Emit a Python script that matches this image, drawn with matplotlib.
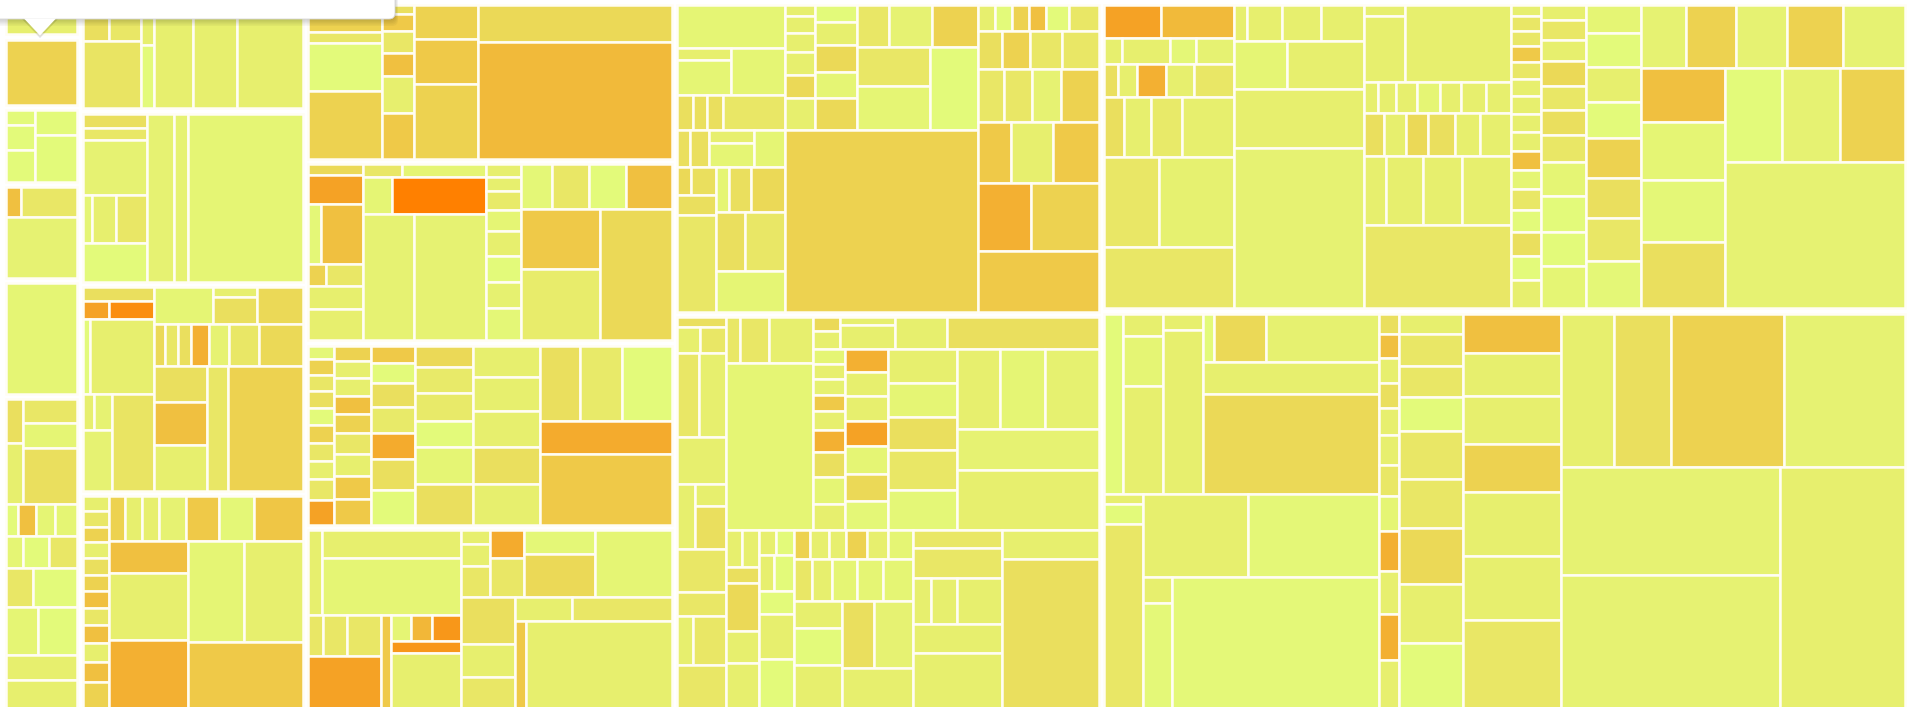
#!/usr/bin/env python3
# Treemap of nested blocks, coloured yellow -> orange by heat
#
import matplotlib
matplotlib.use("Agg")
import matplotlib.pyplot as plt
from matplotlib.patches import Rectangle, FancyBboxPatch, Polygon
from matplotlib.colors import LinearSegmentedColormap

# leaves are (size, heat); lists are groups, split alternately across / down
block_a1 = [(27, 1)]
block_a2 = [(54, 3)]
block_a3 = [[(5.1, 0), (8.6, 0), (10.9, 0)], [(12.2, 0), (22.5, 0)]]
block_a4 = [[[(5.1, 4), (19.5, 1.5)], (49.3, 0.7)]]
block_a5 = [(89.3, 0.5)]
block_a6 = [[[[(8.1, 2), (11.2, 1)], [(14.2, 1.5), (15.3, 0.5), (33.6, 2)]],
             [(4.2, 0), (6.1, 4), (6.7, 0.5), (7.7, 0.5)],
             [(5.8, 0.5), (9.0, 0), (9.9, 1.5)],
             [(11.6, 1.5), (19.2, 0)],
             [(17.2, 0.5), (20.6, 0)],
             (19.3, 1), (29.3, 1)]]

block_b1 = [[[(10.3, 2), (12.2, 1.5)], (41.9, 1.7)],
            [(5.7, 1), (9.0, 0)],
            (43.6, 1), (49, 1), (73.6, 1)]
block_b2 = [[(9.2, 2), (8.5, 1.5), (37, 0.7),
             [[[(4.5, 0.5), (12.4, 1), (15.6, 1.5)], (26.2, 0)]]],
            (48.4, 0.7), (24.2, 0.7), (203, 0.5)]
block_b3 = [[(10.2, 2), [(4.9, 5), (8.6, 5.6)], [(5.4, 0), (50.8, 1)],
             [[[(4.3, 1), (6.8, 0.7)], (18.8, 0.7)], (42.8, 1.7)]],
            [[(22.7, 0.5), [(4.7, 1), (12.2, 2)], (17.4, 2.5)],
             [(4.9, 2.5), (5.8, 1.5), (5.4, 2), (8.2, 4.5), (8.6, 0.7), (13.1, 1.5), (19.4, 2.5)],
             [[(20.2, 2), (24, 4), (25.9, 1)], (27, 1.5), (98.3, 3)]]]
block_b4 = [[(4.0, 1), (4.2, 1.5), (4.2, 3), (4.4, 1), (4.4, 2), (4.5, 3),
             (4.5, 4), (4.5, 1.5), (4.9, 4), (5.3, 1), (5.4, 4), (9.5, 3)],
            [[(7.7, 3), (7.7, 1), (8.0, 1), (12.7, 0.7), (15.5, 3.5), (16.2, 0.3), (22.5, 3.7)],
             [[(26.9, 4), (55.4, 1), (64.8, 4.5)],
              [[(59.2, 0.5), (61.3, 1)], (90.7, 3.5)]]]]

block_c1 = [[(20.9, 3), (8.6, 1.5), (36.9, 0), (52.5, 3)],
            [(3.3, 2), (5.8, 3.5), (7.4, 1.5), (7.8, 4), (12.7, 1), (15.7, 3.5)],
            [(23.1, 3), (29.9, 3.5), (50.7, 3)],
            [(74.5, 2.5), (238.1, 4.2)]]
block_c2 = [[(5.8, 2.5), (16.9, 5), [(8.4, 0.3), (26.0, 4)], [(4.0, 3), (8.3, 1.5)],
             (13.3, 1), (17.8, 1)],
            [[(5.0, 1.5), (10.6, 0.5)], [(11.6, 0.5), (36.6, 6)], [(67.6, 0.7), (94.9, 0.7)]],
            [(4.6, 1), (5.1, 1), (6.8, 1.3), (7.5, 0.5), (8.9, 1), (9.5, 0), (9.5, 0.8), (11.6, 0.3)],
            [[(14.7, 0.3), (17.0, 1.5), (17.5, 0), (21.2, 4)],
             [[(49.6, 3.5), (58.4, 1.2)], (98.6, 2.5)]]]
block_c3 = [[(3.5, 0.3), (4.3, 3), (4.4, 1.5), (4.4, 2), (4.7, 0), (4.8, 3),
             (4.8, 1.5), (4.8, 1), (5.6, 1.5), (6.5, 5)],
            [(5.8, 3), (6.8, 1), (6.9, 1), (6.9, 4), (7.1, 3), (8.1, 1.5),
             (8.8, 1), (8.8, 3.5), (9.8, 3.5)],
            [(8.1, 3.5), (9.0, 0), (11.3, 2), (12.2, 1.3), (12.2, 4.7), (14.2, 2), (16.0, 0)],
            [(12.9, 2.5), (15.8, 1.3), (16.4, 1.3), (16.1, 0), (21.9, 0.5), (24.6, 2)],
            [(22.3, 1), (24.0, 1), (25.3, 1), (26.0, 2), (28.4, 1)],
            [[(30.8, 2), (33.1, 1.3), (38.5, 0)], (45.2, 4.7), (97.1, 3.5)]]
block_c4 = [[[(12.7, 1), [(40.9, 1), (82.5, 0.5)]],
             [[[(6.5, 1.5), (10.1, 1.5), (14.3, 1.5)], (46.3, 5)], (11.6, 3.5),
              [[(5.3, 0.5), (5.7, 4.3), (7.8, 5.3)], (8.5, 5.3), (47.2, 1)]]],
            [[[(4.0, 1), (6.6, 1), (9.1, 1.5)], [(9.8, 4.7), (14.0, 1.5)],
              [(18.0, 0.3), (31.7, 2.5)], (53.8, 0.5)],
             [[(26.4, 2), (18.5, 1), (22.3, 1.5)],
              [[(14.2, 1), (24.6, 1.5)], [(10.4, 3.5), (146.5, 1)]]]]]

block_d1 = [[(47.4, 0.5),
             [[(7.2, 1), (19.3, 0.5)], (25.9, 0.5)],
             [(5.8, 2), (5.2, 2), (5.6, 2), (22.7, 1.5)],
             [(4.8, 2), (7.2, 2), [(5.7, 1), (11.1, 0.5)], (11.5, 0.5)],
             [[[(4.0, 2.5), (7.1, 2)], (8.0, 2), (38.4, 1.5)],
              [[(6.4, 0.5), (10.1, 2), (15.6, 2.5)], [(17.8, 2), (24.5, 1.5)], (28.7, 0.5)]]],
            [[[(3.4, 1), (5.4, 1), (6.2, 1), (7.1, 1), (7.3, 2.5), (9.9, 1)],
              [(7.4, 0), (10.2, 1), (11.5, 2.5), (11.3, 0.5), (13.6, 2.5)],
              [[(14.1, 1.5), (18.9, 0.7), (20.2, 3)],
               [[(28.7, 1.5), (32.7, 0.5)], (40.9, 0)]]],
             (362.6, 3)],
            [[(4.5, 1), (4.6, 0), (4.7, 3), (4.7, 4), (6.3, 0), (8.1, 1.5)],
             [(8.9, 2), (11.0, 3), (12.4, 1.5), (14.1, 1.5)],
             [(14.0, 1.5), (15.1, 1.5), (16.2, 0.7), (20.5, 3)],
             [(20.6, 3.5), (26.3, 1), (29.4, 3.5)],
             [(36.9, 4.5), (47.3, 3)],
             (75.0, 3.5)]]
block_d2 = [[(5.25, 2), [(6.1, 1), (6.9, 1.5)], [(19.1, 1.5), (23.4, 1)], (23.8, 1),
             [(11.8, 1), [(7.2, 1), (13.8, 2)]], (22, 1.5), (12, 1.5),
             [(8, 1), (17, 1.5)], (26.3, 1.5)],
            [[[[(6.5, 1.5), (13.7, 1.5), (20.5, 1)], (147.9, 0.5)],
              [[[(3.9, 2.5), (5.1, 1)], [(4.4, 1), (13.5, 1)], (17.4, 1), (49.9, 2)],
               [[(4.8, 0.5), (5.0, 1), (5.4, 0.8), (5.3, 3.5), (6.6, 1), (7.4, 4.5),
                 (8.3, 2), (8.9, 0.5), (8.7, 1)],
                [(9.9, 4.5), (10.3, 1), (11.2, 1), (10.8, 5), (12.0, 0.5), (12.0, 2.5), (12.5, 0.3)],
                [(23.8, 1), (24.2, 0.5), (23.8, 2), (28, 1.5), (28.4, 0.3)],
                [[(35.2, 1), (36.5, 0.5), (44.6, 0.8)], (58.8, 0.7), (87.5, 1)]]]],
             [[[(5.9, 1), (6.3, 1)], (5.6, 2), (15.8, 2.5), (10.7, 1), (18.2, 1)],
              [[(4.3, 1), (4.6, 0)], [(5.5, 1), (7.3, 0)], (8.1, 0), (15.8, 1), (20.8, 0)],
              [[(4.9, 3), (5.4, 1), (5.1, 1), (6.2, 3), (6.2, 1), (7.3, 0.5)],
               [(8.2, 1.5), (8.6, 1), (10.8, 0.5), (11.4, 0.5), (13.1, 0.5)],
               [[(13.3, 1), (18.2, 0), (25.5, 1)],
                [[(21.9, 2), (27, 0.7)], (36.3, 1)]]],
              [(16.1, 1.5), (27.3, 1.5), [(8.4, 1), (12.3, 1), (20.9, 1)], (26.4, 1), (58.2, 1)],
              [(29.1, 1), (157.6, 2)]]]]

block_e1 = [[[(19.2, 5), (25.2, 4.2)],
             [(4.7, 1), (12.5, 1), (6.8, 0.3), (10.0, 0.7)],
             [(4.7, 2), (6.4, 1), (9.5, 4.5), (9.4, 1), (13.7, 1.5)],
             [(12.2, 2), (16.5, 1), (18.9, 1.3), (32.0, 1)],
             [(49.9, 1.5), (69.5, 0.8)],
             (81.6, 1.5)],
            [[(4.6, 1), (13.1, 1), (14.2, 1), (15.7, 1)],
             [(26.2, 0.5), (37.7, 1)],
             (78.3, 1), (212.7, 0.7)],
            [[[(4.7, 1), (27.5, 1)], (84.0, 1)],
             [(4.5, 1), (5.8, 1), (6.7, 1), (7.4, 0.5), (7.0, 1), (7.8, 1), (8.2, 1)],
             [(8.6, 2), (9.7, 1), (9.5, 2.5), (11.4, 2), (11.2, 1), (13.3, 1)],
             [(15.5, 1), (26.1, 1), (28.2, 1), (34.5, 1)],
             (125.1, 1.5)],
            [(3.5, 1), (4.6, 1.5), (4.7, 1.5), (5.0, 3.5), (5.2, 1.5), (5.2, 1), (5.5, 1),
             (5.6, 1), (5.9, 1), (5.9, 4), (6.1, 0.5), (6.3, 1.5), (7.0, 0), (7.3, 2),
             (7.5, 0), (8.7, 1)],
            [(6.7, 1), (9.1, 1.5), (9.8, 1), (11.1, 2.5), (11.1, 1.5), (11.1, 2),
             (12.2, 1.5), (15.4, 0.5), (16.2, 0), (15.6, 0), (18.9, 0.5)],
            [(16.2, 0.5), (19.3, 0), (19.6, 1), (21.0, 0), (22.7, 3), (22.7, 2), (24.4, 1.5), (26.9, 0.3)],
            [[(28.5, 0.7), (32.6, 3), (33.0, 0.7), (35.8, 3), (40.0, 0.7)],
             [[(46.5, 4), (50.3, 0.5), (53.2, 0.3), (56.6, 2)],
              [[(55.2, 0), (55.7, 0.7), (62.9, 3)], (268.8, 0.7)]]]]
block_e2 = [[[(34.6, 0), [(9.2, 1), (20.2, 0.5), (43.4, 1)], [(6.8, 1), (66.0, 1)],
              [[(5.4, 0), (25.5, 2.5), (56.1, 0.8)], (56.8, 1), (179.3, 2.5)]],
             [[(4.3, 1), (7.8, 0), (76.2, 1.5)],
              [[(89.3, 1), (112.6, 0.3)], [[(7.4, 1), (33.6, 0.2)], (295.0, 0.2)]]]],
            [(4.1, 2), (4.7, 4), (4.9, 1), (4.9, 2), (5.3, 1), (5.9, 1), (6.3, 1.5),
             (6.8, 0.5), (8.0, 4.5), (8.5, 1), (8.9, 4.5), (11.4, 1)],
            [(13.5, 1), (20.6, 1.5), (20.0, 1.5), (22.6, 0), (31.0, 1.5), (32.3, 1.5),
             (36.8, 2.5), (38.1, 1), (48.7, 0)],
            [(38.9, 4), (42.8, 1), (48.3, 1), (47.3, 3), (64.0, 1), (64.0, 1), (97.0, 1.5)],
            [[(83.7, 1), (88.4, 2), (176.7, 3), (188.3, 0.7)],
             [[(240.9, 0.7), (319.3, 0.7)], (318.1, 1)]]]

column_a = [block_a1, block_a2, block_a3, block_a4, block_a5, block_a6]
column_b = [block_b1, block_b2, block_b3, block_b4]
column_c = [block_c1, block_c2, block_c3, block_c4]
column_d = [block_d1, block_d2]
column_e = [block_e1, block_e2]

HEAT_COLOURS = ["#e3fa7a", "#e7ef6e", "#eadf5e", "#edd250",
                "#f0c040", "#f5a225", "#ff8000"]
HEAT_MAX = 6.0
BLOCK_PAD = 2.75


cmap = LinearSegmentedColormap.from_list("heat", HEAT_COLOURS)


def size(node):
    if isinstance(node, tuple):
        return node[0]
    return sum(size(c) for c in node)


def layout(ax, node, x0, y0, x1, y1, depth):
    if isinstance(node, tuple):
        ax.add_patch(Rectangle((x0, y0), x1 - x0, y1 - y0,
                               facecolor=cmap(node[1] / HEAT_MAX),
                               edgecolor="#fffdf4", linewidth=1.8))
        return
    if depth == 2:
        x0 += BLOCK_PAD
        y0 += BLOCK_PAD
        x1 -= BLOCK_PAD
        y1 -= BLOCK_PAD
    total = size(node)
    pos = x0 if depth % 2 == 0 else y0
    for child in node:
        share = size(child) / total
        if depth % 2 == 0:
            step = (x1 - x0) * share
            layout(ax, child, pos, y0, pos + step, y1, depth + 1)
        else:
            step = (y1 - y0) * share
            layout(ax, child, x0, pos, x1, pos + step, depth + 1)
        pos += step


def tooltip(ax):
    # drop shadow under the hover box
    for i in range(6):
        ax.add_patch(FancyBboxPatch((-20, -30), 415 + i * 0.6, 49 + i * 1.4,
                                    boxstyle="round,pad=0,rounding_size=6",
                                    facecolor="black", edgecolor="none",
                                    alpha=0.035, zorder=5))
    ax.add_patch(Polygon([(22, 19), (58, 19), (40, 38)], closed=True,
                         facecolor="black", edgecolor="none", alpha=0.12, zorder=5))
    ax.add_patch(FancyBboxPatch((-20, -30), 415, 49,
                                boxstyle="round,pad=0,rounding_size=6",
                                facecolor="white", edgecolor="#d8d8d8",
                                linewidth=0.6, zorder=6))
    ax.add_patch(Polygon([(24, 18.5), (56, 18.5), (40, 35.5)], closed=True,
                         facecolor="white", edgecolor="none", zorder=7))


fig = plt.figure(figsize=(19.13, 7.07), dpi=100)
ax = fig.add_axes([0, 0, 1, 1])
ax.set_xlim(0, 1913)
ax.set_ylim(707, 0)
ax.set_axis_off()

root = [column_a, column_b, column_c, column_d, column_e]
layout(ax, root, 3, 2, 1908, 720, 0)
tooltip(ax)

fig.savefig("out.png", dpi=100, facecolor="white")
